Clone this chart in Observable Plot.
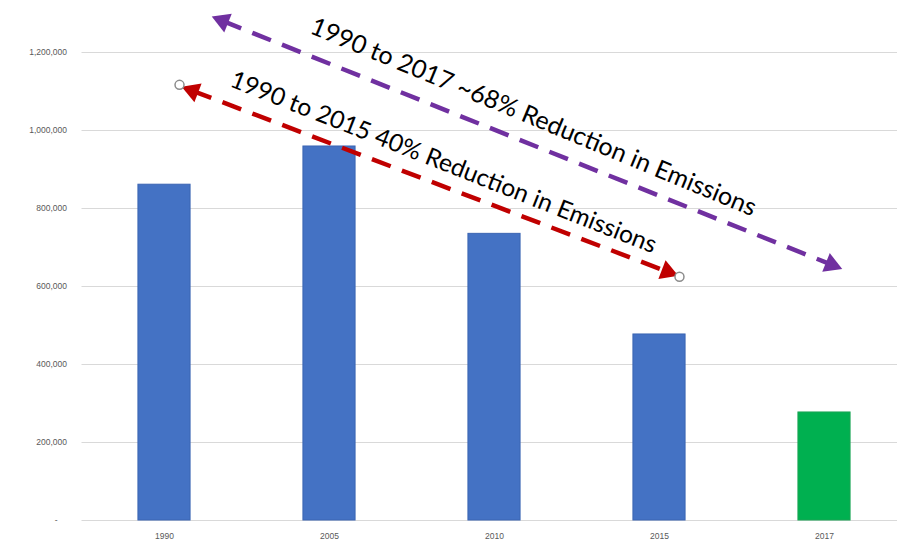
<!DOCTYPE html>
<html>
<head>
<meta charset="utf-8">
<script src="https://cdn.jsdelivr.net/npm/d3@7"></script>
<script src="https://cdn.jsdelivr.net/npm/@observablehq/plot@0.6"></script>
<style>
  html, body { margin: 0; padding: 0; background: #fff; }
  #chart { width: 897px; height: 544px; overflow: hidden; }
</style>
</head>
<body>
<div id="chart"></div>
<script>
// ---- data ----
const years = ["1990", "2005", "2010", "2015", "2017"];
const emissions = [861000, 959000, 735000, 477000, 277000];
const yTicks = [0, 200000, 400000, 600000, 800000, 1000000, 1200000];
const highlightYear = "2017";

// annotation arrows (x in category-index units, y in emission units)
const annLabels = [
  "1990 to 2017 ~68% Reduction in Emissions",
  "1990 to 2015 40% Reduction in Emissions"
];
const annFromX = [0.352, 0.170];
const annFromY = [1281000, 1101800];
const annToX = [4.042, 3.048];
const annToY = [656000, 638000];
const annLabelX = [2.236, 1.691];
const annLabelY = [1034000, 918000];
// end circles on the 1990-2015 arrow
const circleX = [0.091, 3.121];
const circleY = [1117000, 625200];

// ---- styles ----
const annColors = ["#7030A0", "#C00000"];
const xDomain = [-0.5, 4.5], xRange = [81.5, 906.5];
const yDomain = [0, 1200000], yRange = [520, 52];

const table = years.map((year, i) => ({i, year, value: emissions[i]}));
const anns = annLabels.map((label, k) => ({
  label, k,
  x1: annFromX[k], y1: annFromY[k], x2: annToX[k], y2: annToY[k],
  tx: annLabelX[k], ty: annLabelY[k]
}));

const sx = d3.scaleLinear(xDomain, xRange), sy = d3.scaleLinear(yDomain, yRange);
function angle(a) {
  return Math.atan2(sy(a.y2) - sy(a.y1), sx(a.x2) - sx(a.x1)) * 180 / Math.PI;
}

const marks = [
  Plot.ruleY(yTicks, {y: d => d, stroke: "#d9d9d9", strokeWidth: 1}),
  Plot.rectY(table, {
    x1: d => d.i - 0.158, x2: d => d.i + 0.158, y1: 0, y2: "value",
    fill: d => d.year === highlightYear ? "#00B050" : "#4472C4",
    stroke: d => d.year === highlightYear ? "#1aa455" : "#3b65b3",
    strokeWidth: 1
  }),
  Plot.axisY(yTicks, {
    tickSize: 0, tickPadding: 15, fontSize: 8.5, fill: "#595959",
    fontFamily: "Liberation Sans",
    tickFormat: d => d === 0 ? "-\u00a0\u00a0\u00a0\u00a0" : d3.format(",")(d)
  }),
  Plot.axisX(years.map((y, i) => i), {
    tickSize: 0, tickPadding: 12, fontSize: 8.5, fill: "#595959",
    fontFamily: "Liberation Sans",
    tickFormat: i => years[i]
  })
];

anns.forEach((a, k) => {
  const th = angle(a);
  marks.push(
    Plot.link([a], {x1: "x1", y1: "y1", x2: "x2", y2: "y2",
      stroke: annColors[k], strokeWidth: 4.5, strokeDasharray: "20,12"}),
    Plot.dot([{x: a.x1, y: a.y1, r: th + 270}, {x: a.x2, y: a.y2, r: th + 90}], {
      x: "x", y: "y", symbol: "triangle", r: 7.5, fill: annColors[k], stroke: "none",
      rotate: "r"
    }),
    Plot.text([a], {x: "tx", y: "ty", text: "label", rotate: th + 0.7,
      fontSize: k === 0 ? 25 : 24.5, fontFamily: "Lato", fill: "#000",
      textAnchor: "middle", lineAnchor: "middle"})
  );
});

marks.push(Plot.dot(circleX.map((x, i) => ({x, y: circleY[i]})), {
  x: "x", y: "y", r: 4.5, fill: "white", stroke: "#8c8c8c", strokeWidth: 1.5
}));

const chart = Plot.plot({
  width: 897, height: 544,
  marginLeft: 81.5, marginRight: 0, marginTop: 52, marginBottom: 24,
  x: {type: "linear", domain: xDomain, range: xRange, axis: null},
  y: {domain: yDomain, range: yRange, axis: null},
  style: {background: "white", overflow: "visible"},
  marks
});
document.getElementById("chart").appendChild(chart);
</script>
</body>
</html>
